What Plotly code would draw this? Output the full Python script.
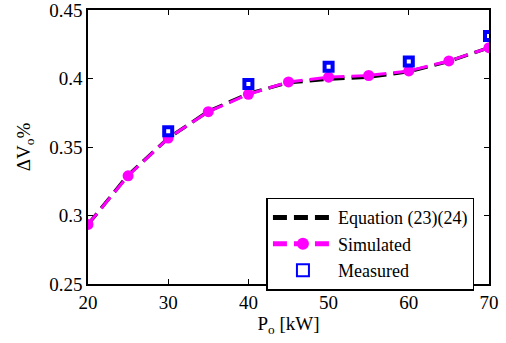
import plotly.graph_objects as go

p_eq = [20, 25, 30, 35, 40, 45, 50, 55, 60, 65, 70]
dv_eq = [0.2935, 0.3295, 0.3565, 0.3760, 0.3890, 0.3970, 0.3995, 0.4010, 0.4050, 0.4125, 0.4225]

p_sim = [20, 25, 30, 35, 40, 45, 50, 55, 60, 65, 70]
dv_sim = [0.2935, 0.3290, 0.3565, 0.3758, 0.3885, 0.3975, 0.4010, 0.4022, 0.4055, 0.4128, 0.4225]

p_meas = [30, 40, 50, 60, 70]
dv_meas = [0.3615, 0.3960, 0.4085, 0.4125, 0.4310]

font = "Times New Roman, Liberation Serif, serif"

fig = go.Figure()
fig.add_trace(go.Scatter(x=p_eq, y=dv_eq, mode="lines", name="Equation (23)(24)",
                         line=dict(color="black", width=3.5, dash="14px,7px")))
fig.add_trace(go.Scatter(x=p_sim, y=dv_sim, mode="lines+markers", name="Simulated",
                         line=dict(color="#ff00ff", width=3, dash="14px,7px"),
                         marker=dict(symbol="circle", size=11, color="#ff00ff")))
fig.add_trace(go.Scatter(x=p_meas, y=dv_meas, mode="markers", name="Measured",
                         marker=dict(symbol="square", size=8, color="white",
                                     line=dict(color="#0000ff", width=4))))

axis_common = dict(showgrid=False, zeroline=False, showline=True, linecolor="black",
                   linewidth=1.5, mirror="ticks", ticks="inside", ticklen=5,
                   tickcolor="black", automargin=False, ticklabeloverflow="allow",
                   tickfont=dict(family=font, size=19, color="black"))

fig.update_layout(
    width=506, height=343,
    margin=dict(l=88, r=17, t=10, b=59),
    paper_bgcolor="white", plot_bgcolor="white",
    xaxis=dict(range=[20, 70], tickvals=[20, 30, 40, 50, 60, 70],
               title=dict(text="P<sub>o</sub> [kW]", font=dict(family=font, size=19, color="black"),
                          standoff=2),
               **axis_common),
    yaxis=dict(range=[0.25, 0.45], tickvals=[0.25, 0.3, 0.35, 0.4, 0.45],
               ticktext=["0.25", "0.3", "0.35", "0.4", "0.45"],
               title=dict(text="ΔV<sub>o</sub>%", font=dict(family=font, size=19, color="black"),
                          standoff=14),
               **axis_common),
    legend=dict(x=0.445, y=0.315, xanchor="left", yanchor="top",
                bgcolor="white", bordercolor="black", borderwidth=1.5,
                font=dict(family=font, size=18, color="black"),
                tracegroupgap=0, itemwidth=60, itemsizing="constant"),
    showlegend=True,
)

fig.write_html("out.html", config={"displayModeBar": False},
               post_script="document.body.style.margin='0';")
